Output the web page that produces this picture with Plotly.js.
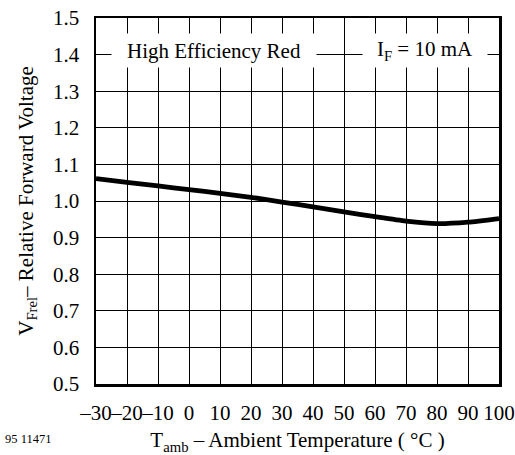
<!DOCTYPE html>
<html>
<head>
<meta charset="utf-8">
<script src="https://cdn.plot.ly/plotly-3.0.1.min.js"></script>
<style>html,body{margin:0;padding:0;background:#fff;}#chart{width:515px;height:455px;}</style>
</head>
<body>
<div id="chart"></div>
<script>
// Data
var temps = [-30, -20, -10, 0, 10, 20, 30, 40, 50, 60, 70, 80, 90, 100];
var vfrel = [1.061, 1.051, 1.041, 1.031, 1.021, 1.010, 0.997, 0.984, 0.970, 0.957, 0.945, 0.938, 0.942, 0.952];
var xTickVals = [-30, -20, -10, 0, 10, 20, 30, 40, 50, 60, 70, 80, 90, 100];
var xTickText = ['\u201330', '\u201320', '\u201310', '0', '10', '20', '30', '40', '50', '60', '70', '80', '90', '100'];
var yTickVals = [0.5, 0.6, 0.7, 0.8, 0.9, 1.0, 1.1, 1.2, 1.3, 1.4, 1.5];
var labelDevice = 'High Efficiency Red';
var labelCurrent = 'I<sub>F</sub> = 10 mA';
var xTitle = 'T<sub>amb</sub> \u2013 Ambient Temperature ( \u00B0C )';
var yTitle = 'V<sub>Frel</sub>\u2013 Relative Forward Voltage';
var figId = '95 11471';

var serif = 'Liberation Serif';
var fs = 21;

var trace = {
  x: temps,
  y: vfrel,
  type: 'scatter',
  mode: 'lines',
  line: {color: '#000', width: 4.8, shape: 'spline', smoothing: 0.6},
  hoverinfo: 'skip'
};

var layout = {
  width: 515,
  height: 455,
  margin: {l: 96, r: 16, t: 18, b: 71},
  paper_bgcolor: '#fff',
  plot_bgcolor: '#fff',
  showlegend: false,
  font: {family: serif, size: fs, color: '#000'},
  xaxis: {
    range: [-30, 100],
    tickvals: xTickVals,
    ticktext: xTickText,
    tickangle: 0,
    ticks: '',
    ticklabelstandoff: 8,
    showgrid: true,
    gridcolor: '#000',
    gridwidth: 1,
    zeroline: false,
    showline: true,
    linecolor: '#000',
    linewidth: 2.5,
    mirror: true,
    automargin: false,
    tickfont: {family: serif, size: fs, color: '#000'},
    title: {text: xTitle, font: {family: serif, size: fs, color: '#000'}, standoff: 9}
  },
  yaxis: {
    range: [0.5, 1.5],
    tickvals: yTickVals,
    tickformat: '.1f',
    ticks: '',
    ticklabelstandoff: 10,
    showgrid: true,
    gridcolor: '#000',
    gridwidth: 1,
    zeroline: false,
    showline: true,
    linecolor: '#000',
    linewidth: 2.5,
    mirror: true,
    automargin: false,
    tickfont: {family: serif, size: fs, color: '#000'},
    title: {text: yTitle, font: {family: serif, size: fs, color: '#000'}, standoff: 14}
  },
  annotations: [
    {
      xref: 'x', yref: 'y', x: 8, y: 1.41,
      text: labelDevice, showarrow: false,
      bgcolor: '#fff', borderpad: 0, width: 204, height: 33,
      font: {family: serif, size: fs, color: '#000'}
    },
    {
      xref: 'x', yref: 'y', x: 76, y: 1.41,
      text: labelCurrent, showarrow: false,
      bgcolor: '#fff', borderpad: 0, width: 124, height: 33,
      font: {family: serif, size: fs, color: '#000'}
    },
    {
      xref: 'paper', yref: 'paper', x: -0.231, y: -0.150,
      xanchor: 'left', yanchor: 'middle',
      text: figId, showarrow: false,
      font: {family: serif, size: 12.5, color: '#000'}
    }
  ]
};

Plotly.newPlot('chart', [trace], layout, {staticPlot: true, displayModeBar: false});
</script>
</body>
</html>
